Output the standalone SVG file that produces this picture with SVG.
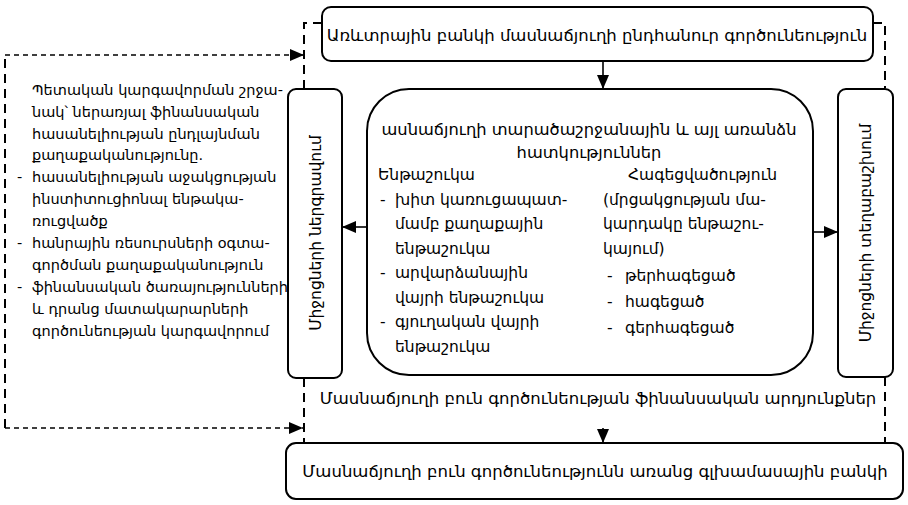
<svg xmlns="http://www.w3.org/2000/svg" width="908" height="505" viewBox="0 0 908 505">
<style>
.box{fill:#fff;stroke:#000;stroke-width:2}
.t{font-family:"DejaVu Sans","Noto Sans",sans-serif;fill:#000}
.big{font-size:16.5px}
.mid{font-size:15.5px}
.ttl{font-size:16.3px}
.sm{font-size:14.5px}
.solid{fill:none;stroke:#000;stroke-width:1.6}
.dash{fill:none;stroke:#000;stroke-width:2;stroke-dasharray:9 6}
.fine{fill:none;stroke:#000;stroke-width:1.4;stroke-dasharray:5 4}
</style>
<defs>
<marker id="ah" viewBox="0 0 14 12" refX="14" refY="6" markerWidth="14" markerHeight="12" markerUnits="userSpaceOnUse" orient="auto">
<path d="M0,0 L14,6 L0,12 Z" fill="#000"/>
</marker>
</defs>
<rect width="908" height="505" fill="#fff"/>

<g id="connectors">
<path class="dash" d="M322,23 H304 V88"/>
<path class="dash" d="M873,23 H885 V88"/>
<path class="dash" d="M304,378 V443"/>
<path class="dash" d="M885,377 V443"/>
<path class="dash" d="M5,428 V55"/>
<path class="fine" d="M5,55 H304" marker-end="url(#ah)"/>
<path class="fine" d="M5,428 H303" marker-end="url(#ah)"/>
<path class="solid" d="M603,61 V89" marker-end="url(#ah)"/>
<path class="solid" d="M368,227 H342" marker-end="url(#ah)"/>
<path class="solid" d="M813,232 H838" marker-end="url(#ah)"/>
<path class="solid" d="M603,428 V443" marker-end="url(#ah)"/>
</g>

<g id="top">
<rect class="box" x="322" y="7" width="551" height="54" rx="9"/>
<text class="t big" x="597" y="41" text-anchor="middle">Առևտրային բանկի մասնաճյուղի ընդհանուր գործունեություն</text>
</g>

<g id="left-box">
<rect class="box" x="288" y="89" width="54" height="289" rx="8"/>
<text class="t mid" transform="translate(316,233) rotate(-90)" text-anchor="middle" dominant-baseline="central">Միջոցների ներգրավում</text>
</g>

<g id="right-box">
<rect class="box" x="838" y="89" width="55" height="288" rx="8"/>
<text class="t mid" transform="translate(866,233) rotate(-90)" text-anchor="middle" dominant-baseline="central">Միջոցների տեղաբաշխում</text>
</g>

<g id="center">
<rect class="box" x="367" y="89" width="446" height="286" rx="42"/>
<text class="t ttl" x="589" y="135" text-anchor="middle">ասնաճյուղի տարածաշրջանային և այլ առանձն</text>
<text class="t ttl" x="589" y="158" text-anchor="middle">հատկություններ</text>
<text class="t mid" x="378" y="180">Ենթաշուկա</text>
<text class="t mid" x="380" y="204.5">-</text>
<text class="t mid" x="395" y="204.5">խիտ կառուցապատ-</text>
<text class="t mid" x="395" y="229">մամբ քաղաքային</text>
<text class="t mid" x="395" y="253.5">ենթաշուկա</text>
<text class="t mid" x="380" y="278">-</text>
<text class="t mid" x="395" y="278">արվարձանային</text>
<text class="t mid" x="395" y="302.5">վայրի  ենթաշուկա</text>
<text class="t mid" x="380" y="327">-</text>
<text class="t mid" x="395" y="327">գյուղական վայրի</text>
<text class="t mid" x="395" y="351.5">ենթաշուկա</text>
<text class="t mid" x="628" y="180">Հագեցվածություն</text>
<text class="t mid" x="603" y="204.5">(մրցակցության մա-</text>
<text class="t mid" x="603" y="229">կարդակը ենթաշու-</text>
<text class="t mid" x="603" y="253.5">կայում)</text>
<text class="t mid" x="607" y="281">-</text>
<text class="t mid" x="625" y="281">թերհագեցած</text>
<text class="t mid" x="607" y="307">-</text>
<text class="t mid" x="625" y="307">հագեցած</text>
<text class="t mid" x="607" y="333">-</text>
<text class="t mid" x="625" y="333">գերհագեցած</text>
</g>

<g id="policy">
<text class="t sm" x="32" y="95">Պետական կարգավորման շրջա-</text>
<text class="t sm" x="32" y="117">նակ՝ ներառյալ ֆինանսական</text>
<text class="t sm" x="32" y="138.5">հասանելիության ընդլայնման</text>
<text class="t sm" x="32" y="160">քաղաքականությունը.</text>
<text class="t sm" x="17" y="182">-</text>
<text class="t sm" x="32" y="182">հասանելիության աջակցության</text>
<text class="t sm" x="32" y="204">ինստիտուցիոնալ ենթակա-</text>
<text class="t sm" x="32" y="226">ռուցվածք</text>
<text class="t sm" x="17" y="248">-</text>
<text class="t sm" x="32" y="248">հանրային ռեսուրսների օգտա-</text>
<text class="t sm" x="32" y="270">գործման քաղաքականություն</text>
<text class="t sm" x="17" y="292">-</text>
<text class="t sm" x="32" y="292">ֆինանսական ծառայությունների</text>
<text class="t sm" x="32" y="314">և դրանց մատակարարների</text>
<text class="t sm" x="32" y="336">գործունեության կարգավորում</text>
</g>

<g id="results">
<text class="t big" x="598" y="404" text-anchor="middle">Մասնաճյուղի բուն գործունեության ֆինանսական արդյունքներ</text>
</g>

<g id="bottom">
<rect class="box" x="286" y="443" width="617" height="56" rx="10"/>
<text class="t big" x="595" y="477" text-anchor="middle">Մասնաճյուղի բուն գործունեությունն առանց գլխամասային բանկի</text>
</g>
</svg>
